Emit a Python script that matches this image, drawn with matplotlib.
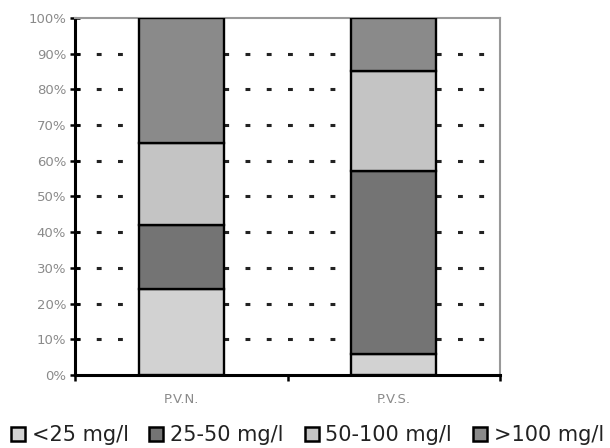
import numpy as np
import matplotlib.pyplot as plt
from matplotlib.patches import Patch

plt.rcParams['lines.scale_dashes'] = False

# 数据（百分比）
groups = ['P.V.N.', 'P.V.S.']
series = ['<25 mg/l', '25-50 mg/l', '50-100 mg/l', '>100 mg/l']
lt25 = [24, 6]
s25_50 = [18, 51]
s50_100 = [23, 28]
gt100 = [35, 15]
colors = ['#d2d2d2', '#747474', '#c4c4c4', '#8a8a8a']

fig = plt.figure(figsize=(6.1, 4.48), dpi=100)
ax = fig.add_axes([0.123, 0.163, 0.697, 0.797])

x = np.arange(len(groups))
bottom = np.zeros(len(groups))
for vals, c, name in zip([lt25, s25_50, s50_100, gt100], colors, series):
    ax.bar(x, vals, width=0.4, bottom=bottom, color=c, edgecolor='black',
           linewidth=1.7, label=name, zorder=3)
    bottom += np.array(vals)

ax.set_xlim(-0.5, 1.5)
ax.set_ylim(0, 100)

# 网格（虚线点）
for yv in range(10, 100, 10):
    ax.axhline(yv, color='#222222', linewidth=2.2,
               linestyle=(0, (3.5, 11.8)), zorder=1)

ax.set_yticks(range(0, 101, 10))
ax.set_yticklabels([f'{v}%' for v in range(0, 101, 10)], fontsize=9.5,
                   color='#8a8a8a')
ax.tick_params(axis='y', direction='inout', length=7, width=1.8, pad=3)

ax.set_xticks(x)
ax.set_xticklabels(groups, fontsize=9.5, color='#8a8a8a')
ax.set_xticks([-0.5, 0.5, 1.5], minor=True)
ax.tick_params(axis='x', which='major', length=0, pad=13)
ax.tick_params(axis='x', which='minor', direction='out', length=4, width=1.8)

ax.spines['left'].set_linewidth(2.2)
ax.spines['bottom'].set_linewidth(2.2)
ax.spines['top'].set_color('#999999')
ax.spines['right'].set_color('#999999')
ax.spines['top'].set_linewidth(1.5)
ax.spines['right'].set_linewidth(1.5)

handles = [Patch(facecolor=c, edgecolor='black', linewidth=1.8) for c in colors]
leg = fig.legend(handles, series, loc='center', bbox_to_anchor=(0.504, 0.029),
                 ncol=4, frameon=False, handlelength=0.67, handleheight=0.67,
                 handletextpad=0.33, columnspacing=1.0, borderaxespad=0,
                 prop={'family': 'DejaVu Sans', 'size': 15})
for t in leg.get_texts():
    t.set_color('#222222')

fig.savefig('out.png', dpi=100)
